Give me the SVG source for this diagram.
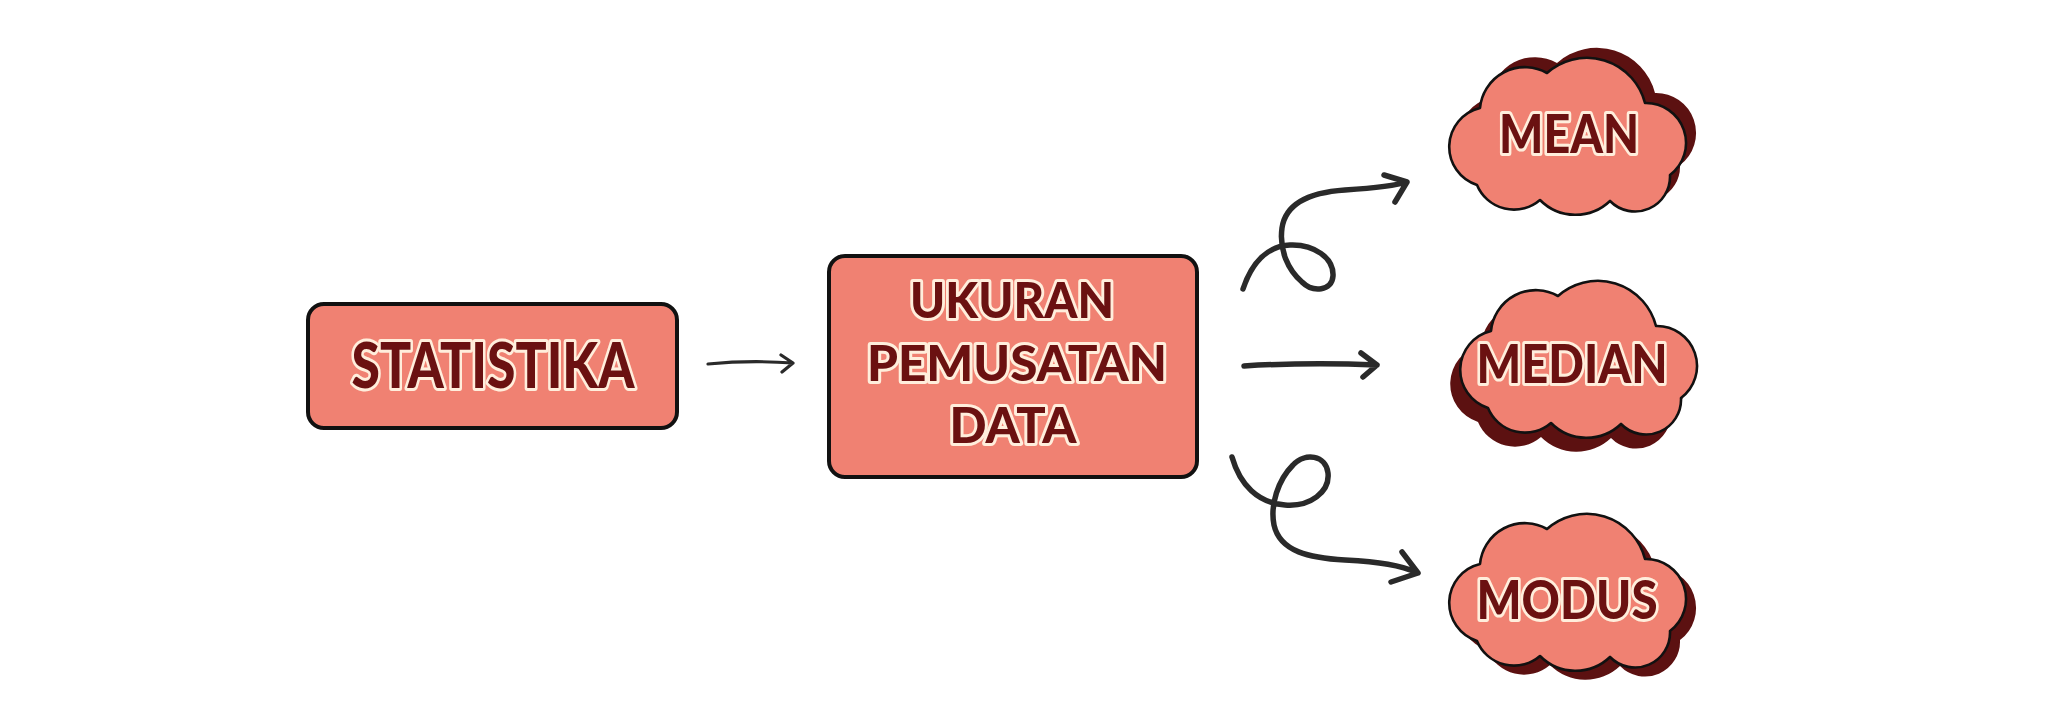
<svg xmlns="http://www.w3.org/2000/svg" xmlns:xlink="http://www.w3.org/1999/xlink" width="2048" height="717" viewBox="0 0 2048 717">
<style>
.box{fill:#F08172;stroke:#111;stroke-width:4}
.cloud{fill:#F08172;stroke:#111;stroke-width:2.6;stroke-linejoin:round}
.shadow{fill:#5C1111}
.lbl{font-family:Lato,"DejaVu Sans",sans-serif;font-weight:900;fill:#6B1111;stroke:#FFEEDC;stroke-width:6;stroke-linejoin:round;paint-order:stroke;text-anchor:middle}
.conn{fill:none;stroke:#2A2A2A;stroke-linecap:round;stroke-linejoin:round}
</style>
<defs>
<path id="cloud" d="M27,127 A40 40 0 0 1 30,50 A45 45 0 0 1 97,15 A60 60 0 0 1 195,45 A40 40 0 0 1 220,117 A35 35 0 0 1 160,143 A50 50 0 0 1 90,142 A40 40 0 0 1 27,127 Z"/>
</defs>
<rect width="2048" height="717" fill="#fff"/>
<g id="connectors">
<path class="conn" stroke-width="3.2" d="M708,364 Q750,360 793,363 M781,355 L793,363 L782,372"/>
<path class="conn" stroke-width="5.5" d="M1243,289 C1252,262 1268,246 1290,245 C1314,244 1334,258 1333,276 C1332,291 1313,293 1302,282 C1288,270 1279,250 1282,228 C1286,200 1315,192 1345,190 C1375,188 1395,186 1407,182 M1384,175 L1407,182 L1395,202"/>
<path class="conn" stroke-width="5.5" d="M1244,366 Q1310,362 1377,365 M1361,353 L1377,365 L1363,377"/>
<path class="conn" stroke-width="5.5" d="M1232,457 C1240,485 1258,503 1285,505 C1310,507 1330,492 1328,473 C1326,455 1305,452 1293,465 C1278,480 1270,505 1274,525 C1280,552 1310,558 1345,560 C1380,562 1400,565 1418,573 M1402,552 L1418,573 L1391,582"/>
</g>
<g id="statistika">
<rect class="box" x="308" y="304" width="369" height="124" rx="16"/>
<text class="lbl" x="493" y="388" font-size="62" textLength="283" lengthAdjust="spacingAndGlyphs">STATISTIKA</text>
</g>
<g id="ukuran-pemusatan-data">
<rect class="box" x="829" y="256" width="368" height="221" rx="16"/>
<text class="lbl" x="1012" y="318" font-size="50" textLength="204" lengthAdjust="spacingAndGlyphs">UKURAN</text>
<text class="lbl" x="1017" y="381" font-size="50" textLength="300" lengthAdjust="spacingAndGlyphs">PEMUSATAN</text>
<text class="lbl" x="1013" y="443" font-size="50" textLength="127" lengthAdjust="spacingAndGlyphs">DATA</text>
</g>
<g id="mean">
<use class="shadow" xlink:href="#cloud" transform="translate(1460,48)"/>
<use class="cloud" xlink:href="#cloud" transform="translate(1450,58)"/>
<text class="lbl" x="1569" y="153" font-size="54" textLength="140" lengthAdjust="spacingAndGlyphs">MEAN</text>
</g>
<g id="median">
<use class="shadow" xlink:href="#cloud" transform="translate(1451,295)"/>
<use class="cloud" xlink:href="#cloud" transform="translate(1461,281)"/>
<text class="lbl" x="1572" y="383" font-size="54" textLength="191" lengthAdjust="spacingAndGlyphs">MEDIAN</text>
</g>
<g id="modus">
<use class="shadow" xlink:href="#cloud" transform="translate(1460,523)"/>
<use class="cloud" xlink:href="#cloud" transform="translate(1450,514)"/>
<text class="lbl" x="1567" y="619" font-size="54" textLength="181" lengthAdjust="spacingAndGlyphs">MODUS</text>
</g>
</svg>
